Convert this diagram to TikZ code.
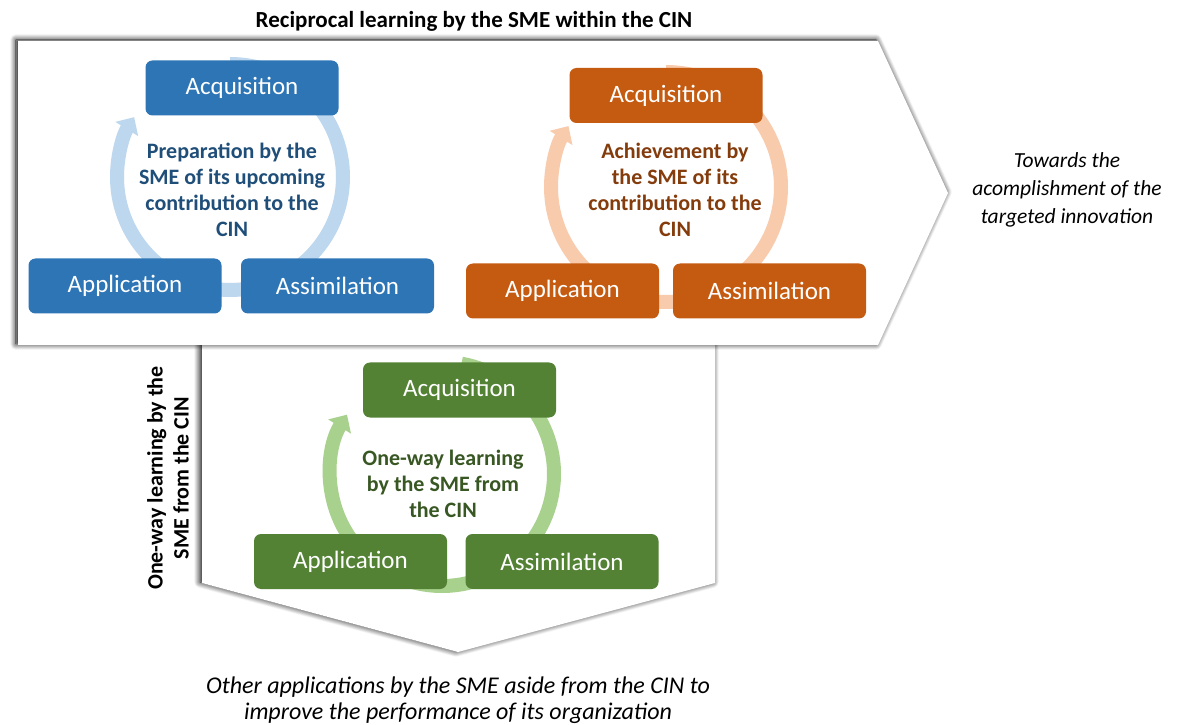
\documentclass[tikz,border=0pt]{standalone}
\usepackage{fontspec}
\setmainfont{Carlito}
\usepackage{tikz}
\usetikzlibrary{calc, shadows.blur, arrows.meta}
\usepackage{tkz-euclide}

\definecolor{boxblue}{HTML}{2E75B6}
\definecolor{ringblue}{HTML}{BDD7EE}
\definecolor{txtblue}{HTML}{1F4E79}
\definecolor{boxorange}{HTML}{C55A11}
\definecolor{ringorange}{HTML}{F8CBAD}
\definecolor{txtorange}{HTML}{843C0C}
\definecolor{boxgreen}{HTML}{548235}
\definecolor{ringgreen}{HTML}{A9D18E}
\definecolor{txtgreen}{HTML}{385723}

\tikzset{
	stage/.style={rounded corners=7pt, minimum width=193pt, minimum height=55pt, text=white, font=\fontsize{25}{30}\selectfont},
	ring/.style={line width=14pt, -{Triangle[length=14pt,width=26pt]}},
	core/.style={align=center, font=\fontsize{22}{26}\selectfont\bfseries},
	note/.style={align=center, font=\fontsize{21.5}{28}\selectfont\itshape},
	frame/.style={fill=white, blur shadow={shadow xshift=-2pt, shadow yshift=1pt, shadow blur radius=6pt, shadow blur steps=10, shadow opacity=100}}
}

\begin{document}
\begin{tikzpicture}[x=1pt, y=1pt]
	\useasboundingbox (0,0) rectangle (1186,724);
	
	\tkzDefPoints{202/400/D,715/400/E,715/141/F,458/72/G,202/141/H}
	\fill[frame] (D)--(E)--(F)--(G)--(H)--cycle;
	\tkzDefPoints{18/683/A,878/683/B,948/531/T,878/379/C,18/379/K}
	\fill[frame] (A)--(B)--(T)--(C)--(K)--cycle;
	
	\node[font=\fontsize{23}{27}\selectfont\bfseries] (Title) at (474,703) {Reciprocal learning by the SME within the CIN};
	
	\tkzDefPoints{230/547/O,666/537/P,442/250/Q}
	\draw[ring, ringblue] (O) ++(90:113) arc[start angle=90, end angle=-212, radius=113];
	\draw[ring, ringorange] (P) ++(90:115) arc[start angle=90, end angle=-212, radius=115];
	\draw[ring, ringgreen] (Q) ++(80:112) arc[start angle=80, end angle=-212, radius=112];
	
	\node[stage, fill=boxblue] (AcqB) at (242,636) {Acquisition};
	\node[stage, fill=boxblue] (AppB) at (125,438) {Application};
	\node[stage, fill=boxblue] (AsmB) at (337.5,438) {Assimilation};
	\node[core, text=txtblue] (PrepB) at (232,534) {Preparation by the\\SME of its upcoming\\contribution to the\\CIN};
	
	\node[stage, fill=boxorange] (AcqO) at (666,628.5) {Acquisition};
	\node[stage, fill=boxorange] (AppO) at (562.5,433) {Application};
	\node[stage, fill=boxorange] (AsmO) at (769.5,433) {Assimilation};
	\node[core, text=txtorange] (AchO) at (675,534) {Achievement by\\the SME of its\\contribution to the\\CIN};
	
	\node[stage, fill=boxgreen] (AcqG) at (459.5,334) {Acquisition};
	\node[stage, fill=boxgreen] (AppG) at (350.5,162.5) {Application};
	\node[stage, fill=boxgreen] (AsmG) at (562,162.5) {Assimilation};
	\node[core, text=txtgreen] (OneG) at (443,240) {One-way learning\\by the SME from\\the CIN};
	
	\node[core, rotate=90] (OneWay) at (168,246) {One-way learning by the\\SME from the CIN};
	\node[note] (Toward) at (1067,534) {Towards the\\acomplishment of the\\targeted innovation};
	\node[note, font=\fontsize{24}{26}\selectfont\itshape] (Other) at (458,24) {Other applications by the SME aside from the CIN to\\improve the performance of its organization};
\end{tikzpicture}
\end{document}
